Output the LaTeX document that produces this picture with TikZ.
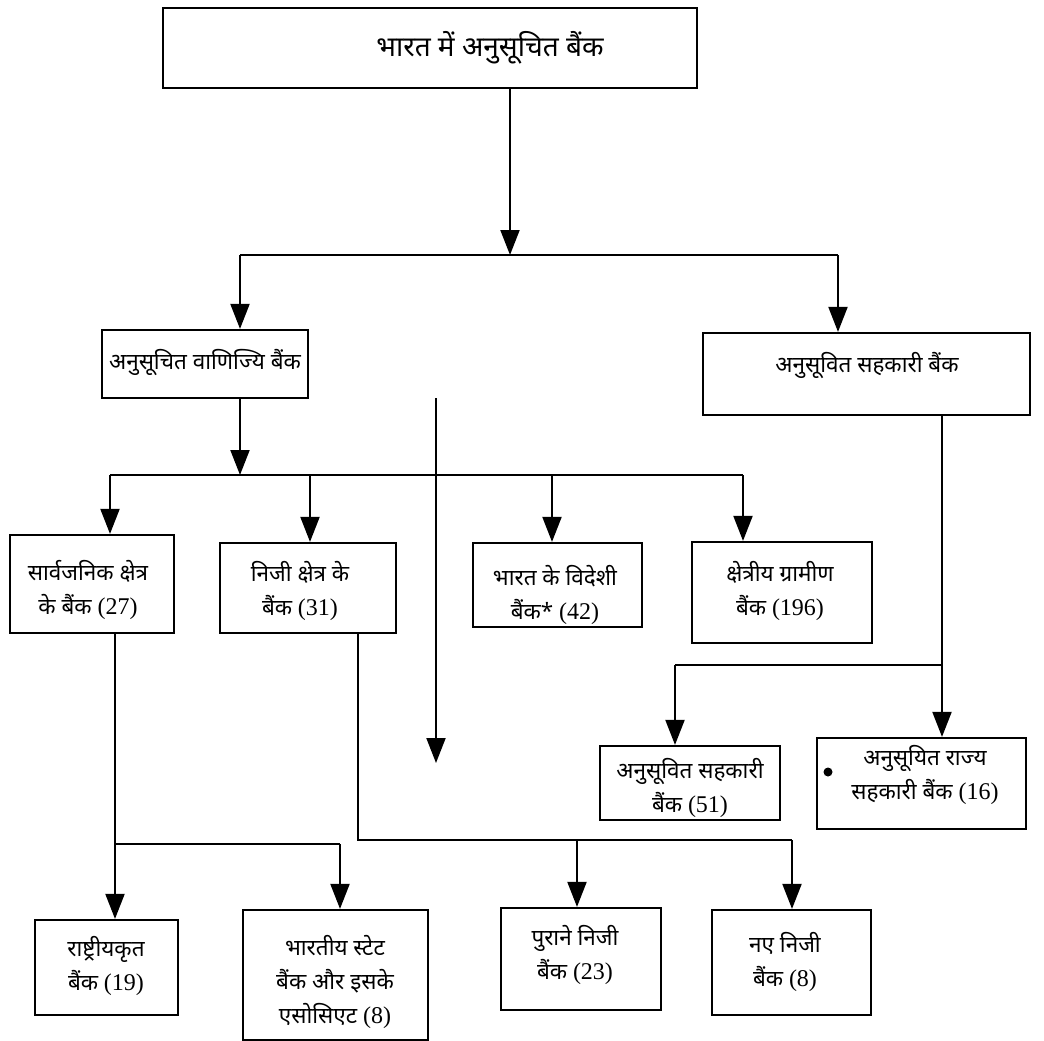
\documentclass[tikz,border=0pt]{standalone}
\usepackage{fontspec}
\newfontfamily\dev[Script=Devanagari]{Noto Sans}
\newfontfamily\latn{Liberation Serif}
\newcommand\numtxt[1]{{\latn\fontsize{24}{34}\selectfont #1}}
\usetikzlibrary{arrows.meta}
\begin{document}
\begin{tikzpicture}[x=1pt,y=-1pt,
 box/.style={draw, line width=2.2pt, inner sep=0pt},
 txt/.style={align=center, font=\dev\fontsize{22.5}{34}\selectfont, inner sep=0pt},
 conn/.style={line width=2pt},
 arr/.style={conn, -{Triangle[width=19pt,length=25pt]}}]
\useasboundingbox (0,0) rectangle (1044,1041);
% boxes
\node[box, minimum width=534pt, minimum height=80pt] (top) at (430,48) {};
\node[box, minimum width=206pt, minimum height=68pt] (vb) at (205,364) {};
\node[box, minimum width=327pt, minimum height=82pt] (sb) at (866.5,374) {};
\node[box, minimum width=164pt, minimum height=98pt] (b27) at (92,584) {};
\node[box, minimum width=176pt, minimum height=90pt] (b31) at (308,588) {};
\node[box, minimum width=169pt, minimum height=84pt] (b42) at (557.5,585) {};
\node[box, minimum width=180pt, minimum height=101pt] (b196) at (782,592.5) {};
\node[box, minimum width=180pt, minimum height=74pt] (b51) at (690,783) {};
\node[box, minimum width=209pt, minimum height=91pt] (b16) at (921.5,783.5) {};
\node[box, minimum width=143pt, minimum height=95pt] (b19) at (106.5,967.5) {};
\node[box, minimum width=185pt, minimum height=130pt] (b8s) at (335.5,975) {};
\node[box, minimum width=160pt, minimum height=102pt] (b23) at (581,959) {};
\node[box, minimum width=159pt, minimum height=105pt] (b8n) at (791.5,962.5) {};
% texts
\node[txt, font=\dev\fontsize{28}{34}\selectfont] (ttop) at (490,48) {भारत में अनुसूचित बैंक};
\node[txt] (tvb) at (205,362) {अनुसूचित वाणिज्यि बैंक};
\node[txt] (tsb) at (867,365) {अनुसूवित सहकारी बैंक};
\node[txt] (t27) at (88,590) {सार्वजनिक क्षेत्र\\के बैंक \numtxt{(27)}};
\node[txt] (t31) at (300,591) {निजी क्षेत्र के\\बैंक \numtxt{(31)}};
\node[txt] (t42) at (555,595) {भारत के विदेशी\\बैंक* \numtxt{(42)}};
\node[txt] (t196) at (780,591) {क्षेत्रीय ग्रामीण\\बैंक \numtxt{(196)}};
\node[txt] (t51) at (690,788) {अनुसूवित सहकारी\\बैंक \numtxt{(51)}};
\node[txt] (t16) at (925,775) {अनुसूयित राज्य\\सहकारी बैंक \numtxt{(16)}};
\node[txt] (t19) at (106,966) {राष्ट्रीयकृत\\बैंक \numtxt{(19)}};
\node[txt] (t8s) at (335,982) {भारतीय स्टेट\\बैंक और इसके\\एसोसिएट \numtxt{(8)}};
\node[txt] (t23) at (575,955) {पुराने निजी\\बैंक \numtxt{(23)}};
\node[txt] (t8n) at (785,962) {नए निजी\\बैंक \numtxt{(8)}};
\node[circle, fill, inner sep=0pt, minimum size=9pt] (dot) at (828,772) {};
% junctions
\coordinate (j1) at (510,255);
\coordinate (j1l) at (240,255);
\coordinate (j1r) at (838,255);
\coordinate (j2) at (240,475);
\coordinate (j2l) at (110,475);
\coordinate (c31) at (310,475);
\coordinate (c42) at (552,475);
\coordinate (j2r) at (743,475);
\coordinate (s1) at (436,398);
\coordinate (s2) at (436,763);
\coordinate (j3) at (942,665);
\coordinate (j3l) at (675,665);
\coordinate (j4) at (115,844);
\coordinate (j4r) at (340,844);
\coordinate (j5) at (358,840);
\coordinate (j5a) at (577,840);
\coordinate (j5b) at (792,840);
% connectors
\draw[arr] (top.south -| j1) -- (j1);
\draw[conn] (j1l) -- (j1r);
\draw[arr] (j1l) -- (vb.north -| j1l);
\draw[arr] (j1r) -- (sb.north -| j1r);
\draw[arr] (vb.south -| j2) -- (j2);
\draw[conn] (j2l) -- (j2r);
\draw[arr] (j2l) -- (b27.north -| j2l);
\draw[arr] (c31) -- (b31.north -| c31);
\draw[arr] (c42) -- (b42.north -| c42);
\draw[arr] (j2r) -- (b196.north -| j2r);
\draw[arr] (s1) -- (s2);
\draw[conn] (sb.south -| j3) -- (j3);
\draw[arr] (j3) -- (b16.north -| j3);
\draw[conn] (j3l) -- (j3);
\draw[arr] (j3l) -- (b51.north -| j3l);
\draw[conn] (b27.south -| j4) -- (j4) -- (j4r);
\draw[arr] (j4) -- (b19.north -| j4);
\draw[arr] (j4r) -- (b8s.north -| j4r);
\draw[conn] (b31.south -| j5) -- (j5) -- (j5b);
\draw[arr] (j5a) -- (b23.north -| j5a);
\draw[arr] (j5b) -- (b8n.north -| j5b);
\end{tikzpicture}
\end{document}
